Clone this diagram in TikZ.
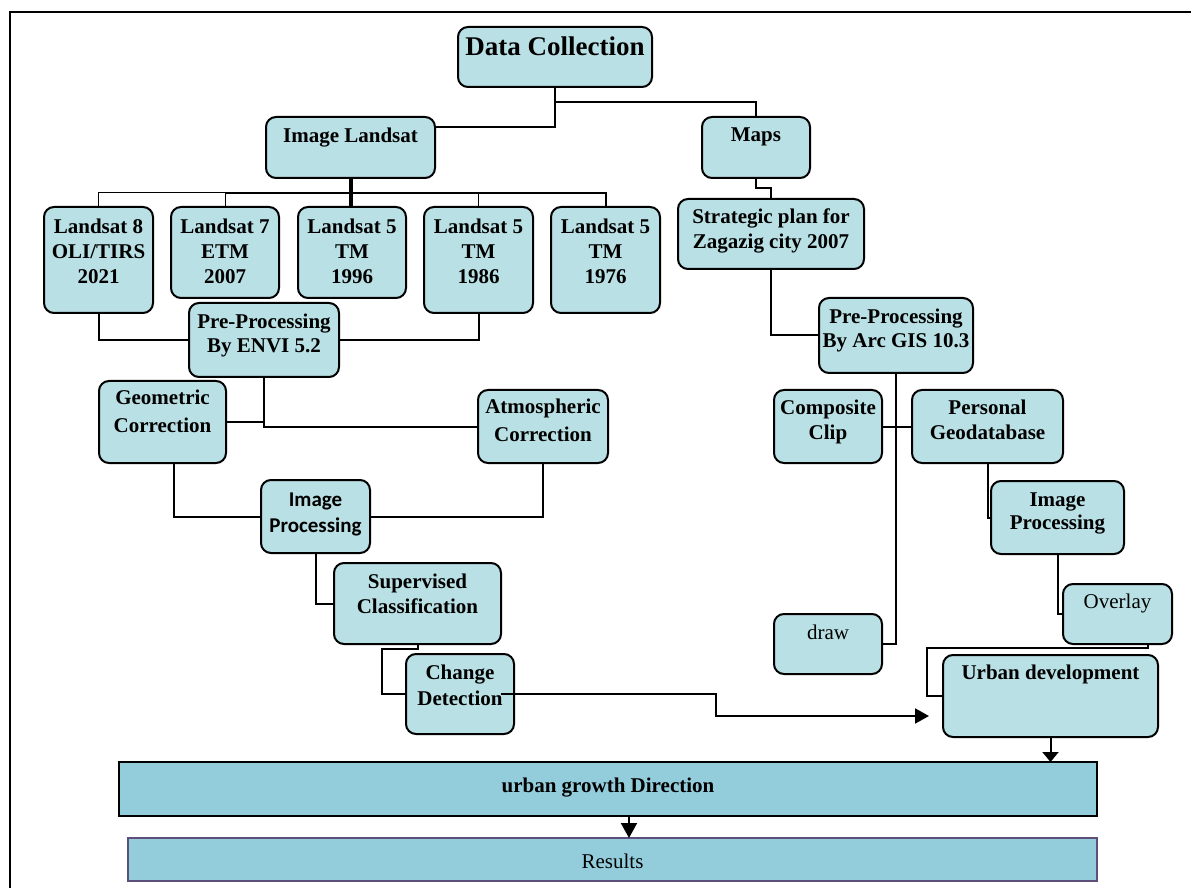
\documentclass[tikz,border=0pt]{standalone}
\usepackage{fontspec}
\setmainfont{Liberation Serif}
\newfontfamily\calfont{Carlito}
\usetikzlibrary{calc,arrows.meta}
\definecolor{boxfill}{RGB}{185,224,228}
\definecolor{barfill}{RGB}{147,205,220}
\definecolor{resline}{RGB}{94,78,122}
\newcommand\mkbox[6]{\node[#1, minimum width={(#5-#3)*0.5pt}, minimum height={(#6-#4)*0.5pt}] (#2) at ({(#3+#5)/2},{(#4+#6)/2}) {};}
\tikzset{
  box/.style={draw, line width=1pt, fill=boxfill, rounded corners=5pt, inner sep=0pt, outer sep=0pt},
  bar/.style={draw, line width=1pt, fill=barfill, inner sep=0pt, outer sep=0pt},
  resbar/.style={draw=resline, line width=0.8pt, fill=barfill, inner sep=0pt, outer sep=0pt},
  lbl/.style={font=\bfseries\fontsize{10.5}{12.5}\selectfont, align=center, inner sep=0pt, anchor=base},
  reg/.style={font=\fontsize{10.5}{12.5}\selectfont, align=center, inner sep=0pt, anchor=base},
  conn/.style={line width=1pt},
  thinconn/.style={line width=0.5pt},
}
\begin{document}
\begin{tikzpicture}[x=0.5pt,y=-0.5pt]
\useasboundingbox (0,0) rectangle (1191,888);
\draw[line width=1pt] (10,888) -- (10,12) -- (1191,12);
% boxes
\mkbox{box}{dc}{458}{27}{652}{87}
\mkbox{box}{il}{266}{117}{435}{178}
\mkbox{box}{maps}{702}{117}{810}{178}
\mkbox{box}{l21}{44}{207}{153}{313}
\mkbox{box}{l07}{171}{207}{279}{298}
\mkbox{box}{l96}{298}{207}{406}{298}
\mkbox{box}{l86}{424}{207}{533}{313}
\mkbox{box}{l76}{551}{207}{660}{313}
\mkbox{box}{sp}{678}{199}{864}{269}
\mkbox{box}{envi}{189}{303}{339}{377}
\mkbox{box}{geo}{99}{381}{226}{463}
\mkbox{box}{atm}{478}{390}{608}{463}
\mkbox{box}{ip}{261}{480}{370}{553}
\mkbox{box}{sup}{334}{563}{501}{644}
\mkbox{box}{cd}{406}{654}{514}{734}
\mkbox{box}{arc}{819}{298}{973}{373}
\mkbox{box}{cc}{774}{390}{882}{463}
\mkbox{box}{pg}{912}{390}{1063}{463}
\mkbox{box}{ip2}{991}{481}{1124}{554}
\mkbox{box}{ov}{1063}{584}{1172}{644}
\mkbox{box}{drw}{774}{614}{882}{674}
\mkbox{box}{ud}{943}{655}{1158}{737}
\mkbox{bar}{ug}{119}{762}{1097}{816}
\mkbox{resbar}{res}{128}{838}{1097}{881}
% connectors
\draw[conn] (dc.south) |- ($(il.north east)!0.164!(il.south east)$);
\draw[conn] (dc.south) -- ++(0,15) -| (maps.north);
\draw[conn] (maps.south) -- ++(0,10) -| (sp.north);
\draw[line width=2pt] (il.south) -- (il.south |- l96.north);
\draw[thinconn] (l21.north) -- ++(0,-14) -| (l07.north);
\draw[conn] (l07.north) ++(0,-14) -| (l76.north);
\draw[thinconn] (l86.north) -- ++(0,-14);
\draw[conn] (l21.south) |- (envi.west);
\draw[conn] (l86.south) |- (envi.east);
\draw[conn] (envi.south) |- (atm.west);
\draw[conn] (geo.east) -- (geo.east -| envi.south);
\draw[conn] ($(geo.south)+(11,0)$) |- (ip.west);
\draw[conn] (atm.south) |- (ip.east);
\draw[conn] (ip.south) |- (sup.west);
\draw[conn] (sup.south) -- ++(0,5) -- ++(-36,0) |- (cd.west);
\draw[conn] (sp.south) |- (arc.west);
\draw[conn] (arc.south) |- (drw.east);
\draw[conn] (cc.east) -- (pg.west);
\draw[conn] (pg.south) |- (ip2.west);
\draw[conn] (ip2.south) |- (ov.west);
\draw[conn] ($(ov.south)+(30,0)$) -- ++(0,4) -- ++(-221,0) |- (ud.west);
\draw[conn, -{Triangle[length=5pt,width=8pt]}] (ud.south) -- (ud.south |- ug.north);
\coordinate (ugout) at ($(ug.south)+(21,0)$);
\draw[conn, -{Triangle[length=7.5pt,width=8pt]}] (ugout) -- (ugout |- res.north);
% labels (anchor=base is the baseline of the last line)
\node[lbl, font=\bfseries\fontsize{13.5}{16}\selectfont] (dcT) at ($(dc.north)+(0,29)$) {Data Collection};
\node[lbl] (ilT) at ($(il.north)+(0,26)$) {Image Landsat};
\node[lbl] (mapsT) at ($(maps.north)+(0,25)$) {Maps};
\node[lbl] (l21T) at ($(l21.north)+(0,77)$) {Landsat 8\\OLI/TIRS\\2021};
\node[lbl] (l07T) at ($(l07.north)+(0,77)$) {Landsat 7\\ETM\\2007};
\node[lbl] (l96T) at ($(l96.north)+(0,77)$) {Landsat 5\\TM\\1996};
\node[lbl] (l86T) at ($(l86.north)+(0,77)$) {Landsat 5\\TM\\1986};
\node[lbl] (l76T) at ($(l76.north)+(0,77)$) {Landsat 5\\TM\\1976};
\node[lbl] (spT) at ($(sp.north)+(0,50)$) {Strategic plan for\\Zagazig city 2007};
\node[lbl] (enviT) at ($(envi.north)+(0,50)$) {Pre-Processing\\By ENVI 5.2};
\node[lbl, font=\bfseries\fontsize{10.5}{13.5}\selectfont] (geoT) at ($(geo.north)+(0,51)$) {Geometric\\Correction};
\node[lbl, font=\bfseries\fontsize{10.5}{13.5}\selectfont] (atmT) at ($(atm.north)+(0,51)$) {Atmospheric\\Correction};
\node[lbl, font=\calfont\bfseries\fontsize{10.5}{13}\selectfont] (ipT) at ($(ip.north)+(0,52)$) {Image\\Processing};
\node[lbl] (supT) at ($(sup.north)+(0,50)$) {Supervised\\Classification};
\node[lbl, font=\bfseries\fontsize{10.5}{13}\selectfont] (cdT) at ($(cd.north)+(0,51)$) {Change\\Detection};
\node[lbl] (arcT) at ($(arc.north)+(0,50)$) {Pre-Processing\\By Arc GIS 10.3};
\node[lbl] (ccT) at ($(cc.north)+(0,49)$) {Composite\\Clip};
\node[lbl] (pgT) at ($(pg.north)+(0,49)$) {Personal\\Geodatabase};
\node[lbl, font=\bfseries\fontsize{10.5}{11.5}\selectfont] (ip2T) at ($(ip2.north)+(0,48)$) {Image\\Processing};
\node[reg] (ovT) at ($(ov.north)+(0,24)$) {Overlay};
\node[reg] (drwT) at ($(drw.north)+(0,25)$) {draw};
\node[lbl] (udT) at ($(ud.north)+(0,24)$) {Urban development};
\node[lbl] (ugT) at ($(ug.north)+(0,30)$) {urban growth Direction};
\node[reg] (resT) at ($(res.north)+(0,30)$) {Results};
% arrow from change detection over its box
\draw[conn, -{Triangle[length=7pt,width=7.5pt]}] ($(cd.east)+(-13,0)$) -- ++(215,0) |- ($(ud.south west)+(-14,-21)$);
\end{tikzpicture}
\end{document}
